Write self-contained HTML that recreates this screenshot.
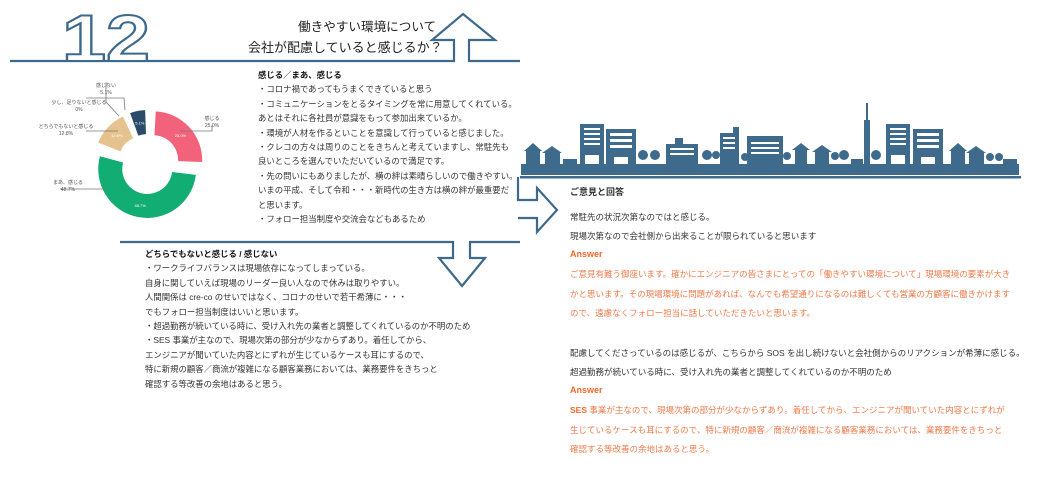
<!DOCTYPE html>
<html><head><meta charset="utf-8">
<style>
html,body{margin:0;padding:0;background:#fff;}
body{width:1040px;height:482px;position:relative;overflow:hidden;font-family:"Liberation Sans","Noto Sans CJK JP",sans-serif;}
.t{position:absolute;white-space:nowrap;color:#333;font-size:8.4px;line-height:14.4px;}
.h{font-weight:bold;color:#111;}
.r{position:absolute;left:570px;white-space:nowrap;font-size:8.5px;color:#333;}
.o{color:#ee7a4a;}
.a{color:#ee6a2e;font-weight:bold;font-family:"Liberation Sans Narrow","Liberation Sans",sans-serif;font-size:9px;}
</style></head><body>
<svg width="1040" height="482" style="position:absolute;left:0;top:0" xmlns="http://www.w3.org/2000/svg">
<g fill="none" stroke="#3d6a8c" stroke-width="2.2" stroke-linejoin="miter">
<polyline points="10,61 454,61 454,40 432,40 463,14 495,40 469,40 469,61 520,61"/>
<polyline points="120,242 453,242 453,258 439,258 462,286 485,258 470,258 470,242 520,242"/>
<polyline points="518,177 518,200 537,200 537,188 557,210 537,232 537,218 518,218"/>
</g>
<text x="62" y="61" font-family="Liberation Sans" font-weight="bold" font-size="66" textLength="88" lengthAdjust="spacingAndGlyphs" fill="#fff" stroke="#3d6a8c" stroke-width="2">12</text>
<g fill="#3e6b8c">
<rect x="521" y="164" width="498" height="11"/>
<rect x="520" y="176" width="501" height="2.5"/>
<rect x="526" y="150" width="14" height="14"/><polygon points="524,151 533,143 542,151"/>
<rect x="545" y="152" width="15" height="12"/><polygon points="542,153 552,146 562,153"/>
<rect x="580" y="124" width="24" height="40"/>
<rect x="606" y="129" width="30" height="35"/>
<rect x="666" y="144" width="32" height="20"/><rect x="675" y="138" width="8" height="8"/>
<rect x="720" y="133" width="19" height="31"/><rect x="733" y="127" width="6" height="8"/>
<rect x="747" y="136" width="36" height="28"/>
<rect x="795" y="148" width="12" height="16"/><polygon points="792,150 801,143 810,150"/>
<rect x="815" y="150" width="14" height="14"/><polygon points="812,152 822,145 832,152"/>
<rect x="864" y="120" width="6" height="44"/><rect x="866" y="103" width="2" height="18"/>
<rect x="886" y="124" width="24" height="40"/>
<rect x="913" y="129" width="30" height="35"/>
<rect x="951" y="150" width="14" height="14"/><polygon points="949,151 958,143 967,151"/>
<rect x="969" y="152" width="15" height="12"/><polygon points="966,153 976,146 986,153"/>
<circle cx="643" cy="155" r="5"/><circle cx="655" cy="155" r="5"/>
<circle cx="707" cy="155" r="5"/><circle cx="716" cy="155" r="4"/>
<circle cx="745" cy="157" r="4"/><circle cx="787" cy="156" r="4"/>
<circle cx="835" cy="156" r="4"/><circle cx="844" cy="155" r="5"/>
<circle cx="876" cy="155" r="5"/><circle cx="990" cy="157" r="4"/><circle cx="999" cy="157" r="4"/>
<rect x="563" y="159" width="14" height="5"/><rect x="851" y="159" width="12" height="5"/><rect x="1003" y="159" width="14" height="5"/>
</g>
<g fill="#fff">
<rect x="584" y="128" width="16" height="2"/><rect x="584" y="133" width="16" height="2"/><rect x="584" y="138" width="16" height="2"/><rect x="584" y="143" width="16" height="2"/><rect x="585" y="155" width="14" height="9"/>
<rect x="610" y="133" width="22" height="3"/><rect x="610" y="139" width="22" height="3"/><rect x="610" y="145" width="22" height="3"/><rect x="614" y="157" width="14" height="7"/>
<rect x="890" y="128" width="16" height="2"/><rect x="890" y="133" width="16" height="2"/><rect x="890" y="138" width="16" height="2"/><rect x="890" y="143" width="16" height="2"/><rect x="891" y="155" width="14" height="9"/>
<rect x="917" y="133" width="22" height="3"/><rect x="917" y="139" width="22" height="3"/><rect x="917" y="145" width="22" height="3"/><rect x="921" y="157" width="14" height="7"/>
<rect x="670" y="148" width="24" height="2"/><rect x="670" y="153" width="24" height="2"/>
<rect x="751" y="142" width="28" height="2"/><rect x="751" y="147" width="28" height="2"/><rect x="751" y="152" width="28" height="2"/>
<rect x="723" y="137" width="12" height="2"/><rect x="723" y="142" width="12" height="2"/><rect x="723" y="147" width="12" height="2"/>
</g>
<g id="donut"></g>
<g fill="none" stroke="#777" stroke-width="0.8">
<polyline points="106,82 106,102 119,116"/>
<polyline points="86,98 124,98 125,110"/>
<polyline points="86,131 118,131"/>
<polyline points="212,125 212,131 180,131"/>
<polyline points="60,189 105,189"/>
</g>
<g font-family="Liberation Sans,Noto Sans CJK JP,sans-serif" font-size="5" fill="#555" text-anchor="middle">
<text x="106" y="87">感じない</text><text x="106" y="94">5.1%</text>
<text x="79" y="104">少し、足りないと感じる</text><text x="79" y="111">0%</text>
<text x="66" y="128">どちらでもないと感じる</text><text x="66" y="135">12.8%</text>
<text x="212" y="120">感じる</text><text x="212" y="127">25.0%</text>
<text x="68" y="184">まあ、感じる</text><text x="68" y="191">48.7%</text>
</g>
</svg>
<script>
(function(){
var cx=148,cy=165,R=49,r=25,g=document.getElementById('donut'),ns='http://www.w3.org/2000/svg';
var segs=[[3,92,'#f2627a',7,'25.0%'],[97,285,'#12ad73',4,'48.7%'],[292,335,'#e6c38e',6,'12.8%'],[340,358,'#2c4a6a',6,'5.1%']];
function p(a,rad,ox,oy){var t=(a-90)*Math.PI/180;return (cx+ox+rad*Math.cos(t)).toFixed(2)+','+(cy+oy+rad*Math.sin(t)).toFixed(2);}
segs.forEach(function(s){var m=((s[0]+s[1])/2-90)*Math.PI/180,ox=s[3]*Math.cos(m),oy=s[3]*Math.sin(m),lg=(s[1]-s[0])>180?1:0;
var d='M'+p(s[0],R,ox,oy)+' A'+R+','+R+' 0 '+lg+' 1 '+p(s[1],R,ox,oy)+' L'+p(s[1],r,ox,oy)+' A'+r+','+r+' 0 '+lg+' 0 '+p(s[0],r,ox,oy)+' Z';
var e=document.createElementNS(ns,'path');e.setAttribute('d',d);e.setAttribute('fill',s[2]);g.appendChild(e);
var t=document.createElementNS(ns,'text');var q=p((s[0]+s[1])/2,(R+r)/2,ox,oy).split(',');t.setAttribute('x',q[0]);t.setAttribute('y',+q[1]+1.5);t.setAttribute('font-size','4');t.setAttribute('fill','#fff');t.setAttribute('text-anchor','middle');t.setAttribute('font-family','Liberation Sans');t.textContent=s[4];g.appendChild(t);});
})();
</script>
<div class="t" style="left:298px;top:20px;font-size:12.6px;color:#222;">働きやすい環境について</div>
<div class="t" style="left:248px;top:41px;font-size:13px;color:#222;">会社が配慮していると感じるか？</div>
<div class="t" style="left:258px;top:68px;">
<span class="h">感じる／まあ、感じる</span><br>
・コロナ禍であってもうまくできていると思う<br>
・コミュニケーションをとるタイミングを常に用意してくれている。<br>
あとはそれに各社員が意識をもって参加出来ているか。<br>
・環境が人材を作るといことを意識して行っていると感じました。<br>
・クレコの方々は周りのことをきちんと考えていますし、常駐先も<br>
良いところを選んでいただいているので満足です。<br>
・先の問いにもありましたが、横の絆は素晴らしいので働きやすい。<br>
いまの平成、そして令和・・・新時代の生き方は横の絆が最重要だ<br>
と思います。<br>
・フォロー担当制度や交流会などもあるため</div>
<div class="t" style="left:145px;top:247px;">
<span class="h">どちらでもないと感じる / 感じない</span><br>
・ワークライフバランスは現場依存になってしまっている。<br>
自身に関していえば現場のリーダー良い人なので休みは取りやすい。<br>
人間関係は cre-co のせいではなく、コロナのせいで若干希薄に・・・<br>
でもフォロー担当制度はいいと思います。<br>
・超過勤務が続いている時に、受け入れ先の業者と調整してくれているのか不明のため<br>
・SES 事業が主なので、現場次第の部分が少なからずあり。着任してから、<br>
エンジニアが聞いていた内容とにずれが生じているケースも耳にするので、<br>
特に新規の顧客／商流が複雑になる顧客業務においては、業務要件をきちっと<br>
確認する等改善の余地はあると思う。</div>
<div class="r h" style="top:185px;font-size:9px;">ご意見と回答</div>
<div class="r" style="top:211px;">常駐先の状況次第なのではと感じる。</div>
<div class="r" style="top:230px;">現場次第なので会社側から出来ることが限られていると思います</div>
<div class="r a" style="top:249px;">Answer</div>
<div class="r o" style="top:268px;">ご意見有難う御座います。確かにエンジニアの皆さまにとっての「働きやすい環境について」現場環境の要素が大き</div>
<div class="r o" style="top:288px;">かと思います。その現場環境に問題があれば、なんでも希望通りになるのは難しくても営業の方顧客に働きかけます</div>
<div class="r o" style="top:307px;">ので、遠慮なくフォロー担当に話していただきたいと思います。</div>
<div class="r" style="top:347px;">配慮してくださっているのは感じるが、こちらから SOS を出し続けないと会社側からのリアクションが希薄に感じる。</div>
<div class="r" style="top:366px;">超過勤務が続いている時に、受け入れ先の業者と調整してくれているのか不明のため</div>
<div class="r a" style="top:385px;">Answer</div>
<div class="r o" style="top:404px;"><b style="color:#ee6a2e">SES</b> 事業が主なので、現場次第の部分が少なからずあり。着任してから、エンジニアが聞いていた内容とにずれが</div>
<div class="r o" style="top:424px;">生じているケースも耳にするので、特に新規の顧客／商流が複雑になる顧客業務においては、業務要件をきちっと</div>
<div class="r o" style="top:443px;">確認する等改善の余地はあると思う。</div>
</body></html>
